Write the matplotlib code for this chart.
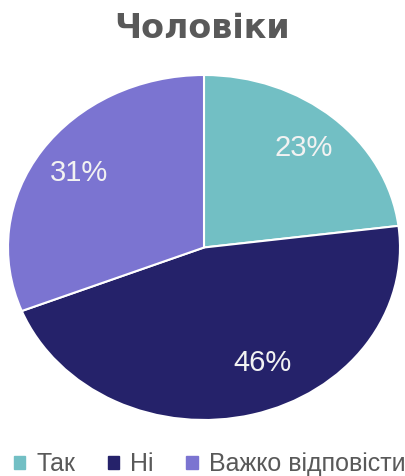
import matplotlib.pyplot as plt
from matplotlib.patches import Patch

categorias = ["Так", "Ні", "Важко відповісти"]
valores = [23, 46, 31]
cores = ["#72bfc4", "#25226a", "#7b74d1"]

plt.rcParams['font.family'] = ['Liberation Sans', 'DejaVu Sans']

fig = plt.figure(figsize=(4.05, 4.76), dpi=100)
ax = fig.add_axes([8/405, 56/476, 392/405, 345/476])

wedges, texts, autotexts = ax.pie(
    valores, colors=cores, startangle=90, counterclock=False,
    autopct='%1.0f%%', pctdistance=0.77,
    wedgeprops=dict(edgecolor='white', linewidth=1.5),
    textprops=dict(color='#f2f2f2', fontsize=21))
# rótulo do "Ні" um pouco deslocado para a direita
autotexts[1].set_position((0.30, -0.67))
ax.set_aspect('auto')
ax.set_xlim(-1.0, 1.0)
ax.set_ylim(-1.0, 1.0)

fig.text(0.5, 0.94, 'Чоловіки', ha='center', va='center',
         fontsize=24, fontweight='bold', color='#595959',
         family='DejaVu Sans')

handles = [Patch(color=c, label=l) for c, l in zip(cores, categorias)]
fig.legend(handles=handles, loc='lower center', ncol=3, frameon=False,
           bbox_to_anchor=(0.518, -0.048), fontsize=18, labelcolor='#595959',
           handlelength=0.45, handleheight=0.45, handletextpad=0.45,
           columnspacing=1.3)

fig.savefig('out.png', dpi=100)
